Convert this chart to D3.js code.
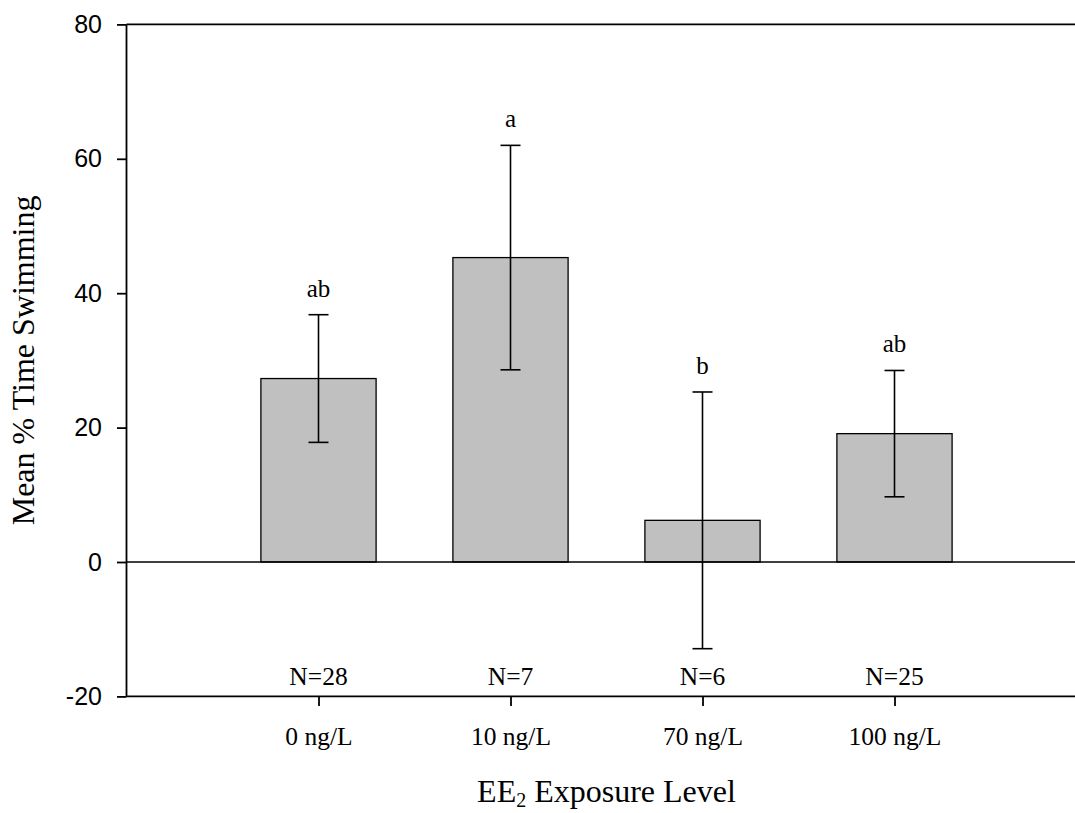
<!DOCTYPE html>
<html>
<head>
<meta charset="utf-8">
<script src="https://cdn.jsdelivr.net/npm/d3@7"></script>
<style>
  html, body { margin: 0; padding: 0; background: #fff; }
  svg { display: block; }
</style>
</head>
<body>
<svg id="chart" width="1075" height="813"></svg>
<script>
// Exposure groups, mean % time swimming and its error
const categories = ["0 ng/L", "10 ng/L", "70 ng/L", "100 ng/L"];
const means = [27.3, 45.3, 6.2, 19.1];
const errors = [9.5, 16.7, 19.1, 9.4];
const groupLetters = ["ab", "a", "b", "ab"];
const sampleSizes = [28, 7, 6, 25];
const yTicks = [-20, 0, 20, 40, 60, 80];

const W = 1075, H = 813;
const svg = d3.select("#chart");

const axisLeftX = 126.5;
const x = d3.scalePoint().domain(categories).range([axisLeftX, axisLeftX + 960]).padding(1);
const y = d3.scaleLinear().domain([-20, 80]).range([696.4, 24.4]);
const barW = x.step() * 0.6;

const serif = "'Liberation Serif', 'Times New Roman', Times, serif";
const sans = "'Liberation Sans', Arial, Helvetica, sans-serif";

// Bars
svg.append("g").selectAll("rect")
  .data(means)
  .join("rect")
  .attr("x", (d, i) => x(categories[i]) - barW / 2)
  .attr("width", barW)
  .attr("y", d => y(Math.max(0, d)))
  .attr("height", d => Math.abs(y(d) - y(0)))
  .attr("fill", "#c0c0c0")
  .attr("stroke", "#000")
  .attr("stroke-width", 1.3);

// Reference lines at 0 and 80, bottom axis at -20
const lineG = svg.append("g").attr("stroke", "#000");
lineG.append("line").attr("x1", axisLeftX).attr("x2", W).attr("y1", y(0)).attr("y2", y(0)).attr("stroke-width", 1.6);
lineG.append("line").attr("x1", axisLeftX).attr("x2", W).attr("y1", y(80)).attr("y2", y(80)).attr("stroke-width", 1.8);
lineG.append("line").attr("x1", axisLeftX).attr("x2", W).attr("y1", y(-20)).attr("y2", y(-20)).attr("stroke-width", 1.8);

// Error bars
const capHalf = 10;
const eg = svg.append("g").attr("stroke", "#000").attr("stroke-width", 1.6);
means.forEach((m, i) => {
  const cx = x(categories[i]);
  const top = y(m + errors[i]), bot = y(m - errors[i]);
  eg.append("line").attr("x1", cx).attr("x2", cx).attr("y1", top).attr("y2", bot);
  eg.append("line").attr("x1", cx - capHalf).attr("x2", cx + capHalf).attr("y1", top).attr("y2", top);
  eg.append("line").attr("x1", cx - capHalf).attr("x2", cx + capHalf).attr("y1", bot).attr("y2", bot);
});

// Significance letters above the error bars
svg.append("g").selectAll("text")
  .data(groupLetters)
  .join("text")
  .attr("x", (d, i) => x(categories[i]))
  .attr("y", (d, i) => y(means[i] + errors[i]) - 18)
  .attr("text-anchor", "middle")
  .attr("font-family", serif)
  .attr("font-size", 25)
  .attr("fill", "#000")
  .text(d => d);

// Sample sizes
svg.append("g").selectAll("text")
  .data(sampleSizes)
  .join("text")
  .attr("x", (d, i) => x(categories[i]))
  .attr("y", 685)
  .attr("text-anchor", "middle")
  .attr("font-family", serif)
  .attr("font-size", 25.5)
  .attr("fill", "#000")
  .text(d => "N=" + d);

// Y axis (plain hyphen for negatives)
const yAxis = svg.append("g")
  .attr("transform", `translate(${axisLeftX},0)`)
  .call(d3.axisLeft(y).tickValues(yTicks).tickSize(9.5).tickPadding(15).tickFormat(d => String(d)));
yAxis.select(".domain").attr("stroke", "#000").attr("stroke-width", 1.8).attr("d", `M0,${y(80)}V${y(-20)}`);
yAxis.selectAll(".tick line").attr("stroke", "#000").attr("stroke-width", 1.8);
yAxis.selectAll(".tick text")
  .attr("font-family", sans)
  .attr("font-size", 25)
  .attr("fill", "#000");

// X axis
const xAxis = svg.append("g")
  .attr("transform", `translate(0,${y(-20)})`)
  .call(d3.axisBottom(x).tickSize(9.5).tickPadding(21));
xAxis.select(".domain").remove();
xAxis.selectAll(".tick line").attr("stroke", "#000").attr("stroke-width", 1.8);
xAxis.selectAll(".tick text")
  .attr("font-family", serif)
  .attr("font-size", 25.5)
  .attr("fill", "#000");

// Axis titles
const xTitle = svg.append("text")
  .attr("x", (axisLeftX + axisLeftX + 960) / 2)
  .attr("y", 802)
  .attr("text-anchor", "middle")
  .attr("font-family", serif)
  .attr("font-size", 32)
  .attr("fill", "#000");
xTitle.append("tspan").text("EE");
xTitle.append("tspan").attr("font-size", 20).attr("dy", 5).text("2");
xTitle.append("tspan").attr("dy", -5).text(" Exposure Level");

svg.append("text")
  .attr("transform", `translate(34,${(y(80) + y(-20)) / 2}) rotate(-90)`)
  .attr("text-anchor", "middle")
  .attr("font-family", serif)
  .attr("font-size", 32)
  .attr("fill", "#000")
  .text("Mean % Time Swimming");
</script>
</body>
</html>
